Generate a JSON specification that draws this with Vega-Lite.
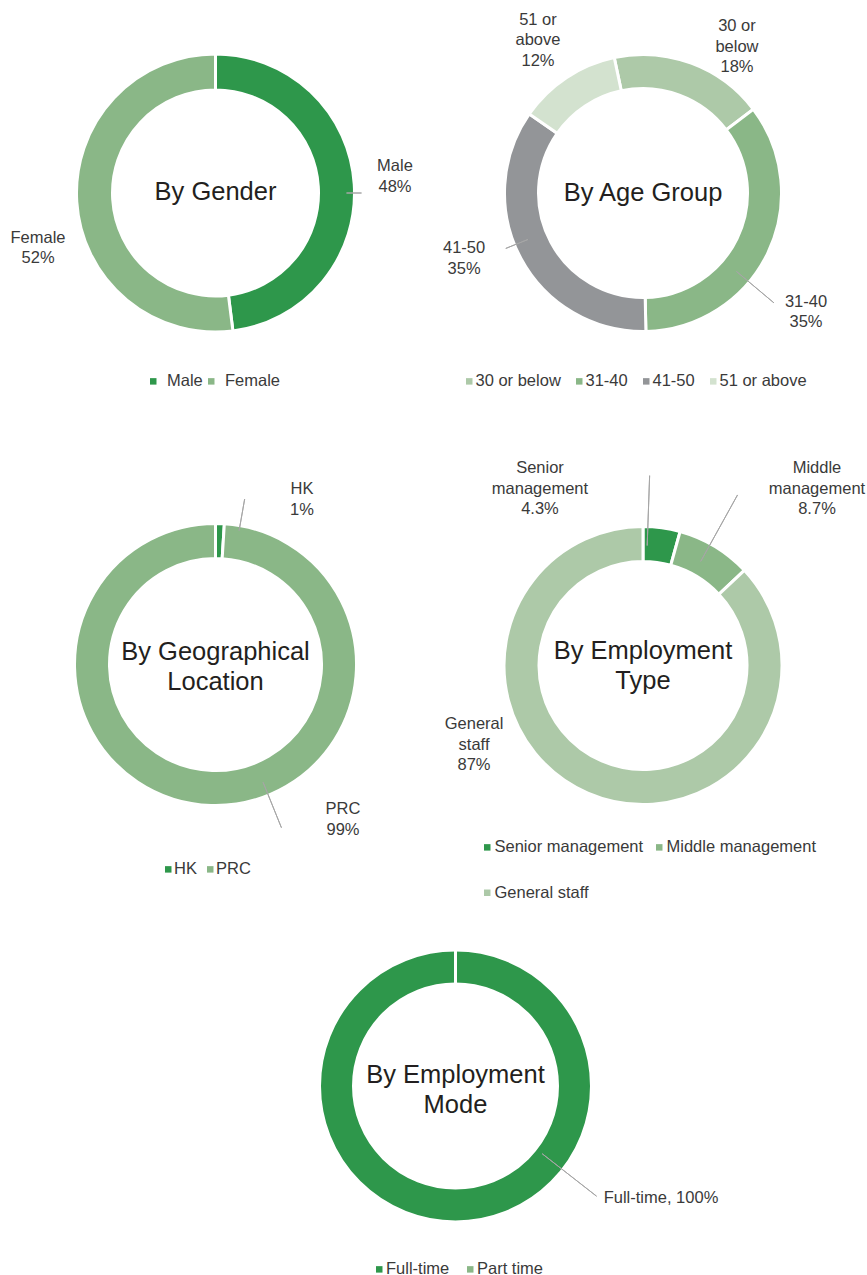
{
  "$schema": "https://vega.github.io/schema/vega-lite/v6.json",
  "padding": 0,
  "background": "white",
  "spacing": 0,
  "config": {
    "view": {"stroke": null},
    "font": "Liberation Sans",
    "text": {"fontSize": 16.5, "lineBreak": "\n", "lineHeight": 20.5, "color": "#3a3a3a"},
    "legend": {"title": null, "orient": "none", "direction": "horizontal", "symbolType": "square", "symbolSize": 42, "symbolStrokeWidth": 0, "labelFontSize": 16.5, "labelColor": "#3a3a3a", "labelFont": "Liberation Sans", "padding": 0, "labelLimit": 300}
  },
  "resolve": {"scale": {"color": "independent", "theta": "independent"}},
  "vconcat": [
    {
      "bounds": "flush",
      "spacing": 0,
      "resolve": {"scale": {"color": "independent", "theta": "independent"}},
      "hconcat": [
        {
          "width": 431, "height": 386,
          "data": {"values": [
            {"cat": "Male", "pct": 48, "i": 1, "label": "Male\n48%"},
            {"cat": "Female", "pct": 52, "i": 2, "label": "Female\n52%"}
          ]},
          "transform": [{"stack": "pct", "groupby": [], "sort": [{"field": "i", "order": "ascending"}], "as": ["s0", "s1"]}],
          "layer": [
            {"mark": {"type": "arc", "radius": 139, "radius2": 103, "stroke": "#ffffff", "strokeWidth": 3},
             "encoding": {
               "theta": {"field": "s0", "type": "quantitative", "stack": null, "scale": {"domain": [0, 100], "range": [0, 6.2832]}},
               "theta2": {"field": "s1"},
               "color": {"field": "cat", "type": "nominal", "scale": {"domain": ["Male", "Female"], "range": ["#2e974b", "#8ab787"]},
                 "legend": {"legendX": 145, "legendY": 373, "labelOffset": 5.5, "columnPadding": 0}}
             }},
            {"transform": [{"filter": "datum.cat === 'Male'"}],
             "mark": {"type": "arc", "radius": 146, "radius2": 131, "stroke": "#a6a6a6", "strokeWidth": 1, "fillOpacity": 0, "thetaOffset": 1.5708, "theta2Offset": 1.5708},
             "encoding": {
               "theta": {"field": "s0", "type": "quantitative", "stack": null, "scale": {"domain": [0, 100], "range": [0, 6.2832]}},
               "theta2": {"field": "s0"}
             }},
            {"transform": [{"filter": "datum.cat === 'Male'"}],
             "mark": {"type": "text", "radius": 181.5, "thetaOffset": 1.4215},
             "encoding": {
               "theta": {"field": "s0", "type": "quantitative", "stack": null, "scale": {"domain": [0, 100], "range": [0, 6.2832]}},
               "text": {"field": "label"}
             }},
            {"transform": [{"filter": "datum.cat === 'Female'"}],
             "mark": {"type": "text", "radius": 183, "thetaOffset": 1.4498},
             "encoding": {
               "theta": {"field": "s0", "type": "quantitative", "stack": null, "scale": {"domain": [0, 100], "range": [0, 6.2832]}},
               "text": {"field": "label"}
             }},
            {"data": {"values": [{"t": "By Gender"}]},
             "mark": {"type": "text", "fontSize": 25.5, "color": "#231f20", "dy": -1, "lineHeight": 30.3},
             "encoding": {"text": {"field": "t"}}}
          ]
        },
        {
          "width": 424, "height": 386,
          "data": {"values": [
            {"cat": "30 or below", "pct": 18, "i": 1, "label": "30 or\nbelow\n18%"},
            {"cat": "31-40", "pct": 35, "i": 2, "label": "31-40\n35%"},
            {"cat": "41-50", "pct": 35, "i": 3, "label": "41-50\n35%"},
            {"cat": "51 or above", "pct": 12, "i": 4, "label": "51 or\nabove\n12%"}
          ]},
          "transform": [{"stack": "pct", "groupby": [], "sort": [{"field": "i", "order": "ascending"}], "as": ["s0", "s1"]}],
          "layer": [
            {"mark": {"type": "arc", "radius": 138.5, "radius2": 104.5, "stroke": "#ffffff", "strokeWidth": 3},
             "encoding": {
               "theta": {"field": "s0", "type": "quantitative", "stack": null, "scale": {"domain": [0, 100], "range": [-0.2094, 6.0738]}},
               "theta2": {"field": "s1"},
               "color": {"field": "cat", "type": "nominal", "scale": {"domain": ["30 or below", "31-40", "41-50", "51 or above"], "range": ["#adc9a8", "#8ab787", "#939598", "#d3e2cf"]},
                 "legend": {"legendX": 30, "legendY": 373, "labelOffset": -2, "columnPadding": 10}}
             }},
            {"transform": [{"filter": "datum.cat === '41-50'"}],
             "mark": {"type": "arc", "radius": 148, "radius2": 124, "stroke": "#a6a6a6", "strokeWidth": 1, "fillOpacity": 0, "thetaOffset": 1.2078, "theta2Offset": 1.2078},
             "encoding": {
               "theta": {"field": "s0", "type": "quantitative", "stack": null, "scale": {"domain": [0, 100], "range": [-0.2094, 6.0738]}},
               "theta2": {"field": "s0"}
             }},
            {"transform": [{"filter": "datum.cat === '31-40'"}],
             "mark": {"type": "arc", "radius": 171, "radius2": 122, "stroke": "#a6a6a6", "strokeWidth": 1, "fillOpacity": 0, "thetaOffset": 1.3474, "theta2Offset": 1.3474},
             "encoding": {
               "theta": {"field": "s0", "type": "quantitative", "stack": null, "scale": {"domain": [0, 100], "range": [-0.2094, 6.0738]}},
               "theta2": {"field": "s0"}
             }},
            {"transform": [{"filter": "datum.cat === '30 or below'"}],
             "mark": {"type": "text", "radius": 191.6, "thetaOffset": 0.722},
             "encoding": {
               "theta": {"field": "s0", "type": "quantitative", "stack": null, "scale": {"domain": [0, 100], "range": [-0.2094, 6.0738]}},
               "text": {"field": "label"}
             }},
            {"transform": [{"filter": "datum.cat === '31-40'"}],
             "mark": {"type": "text", "radius": 195.9, "thetaOffset": 1.2374},
             "encoding": {
               "theta": {"field": "s0", "type": "quantitative", "stack": null, "scale": {"domain": [0, 100], "range": [-0.2094, 6.0738]}},
               "text": {"field": "label"}
             }},
            {"transform": [{"filter": "datum.cat === '41-50'"}],
             "mark": {"type": "text", "radius": 187.3, "thetaOffset": 1.2921},
             "encoding": {
               "theta": {"field": "s0", "type": "quantitative", "stack": null, "scale": {"domain": [0, 100], "range": [-0.2094, 6.0738]}},
               "text": {"field": "label"}
             }},
            {"transform": [{"filter": "datum.cat === '51 or above'"}],
             "mark": {"type": "text", "radius": 202.4, "thetaOffset": 0.4178},
             "encoding": {
               "theta": {"field": "s0", "type": "quantitative", "stack": null, "scale": {"domain": [0, 100], "range": [-0.2094, 6.0738]}},
               "text": {"field": "label"}
             }},
            {"data": {"values": [{"t": "By Age Group"}]},
             "mark": {"type": "text", "fontSize": 25.5, "color": "#231f20", "dy": 0, "lineHeight": 30.3},
             "encoding": {"text": {"field": "t"}}}
          ]
        }
      ]
    },
    {
      "bounds": "flush",
      "spacing": 0,
      "resolve": {"scale": {"color": "independent", "theta": "independent"}},
      "hconcat": [
        {
          "width": 431, "height": 549,
          "data": {"values": [
            {"cat": "HK", "pct": 1, "i": 1, "label": "HK\n1%"},
            {"cat": "PRC", "pct": 99, "i": 2, "label": "PRC\n99%"}
          ]},
          "transform": [{"stack": "pct", "groupby": [], "sort": [{"field": "i", "order": "ascending"}], "as": ["s0", "s1"]}],
          "layer": [
            {"mark": {"type": "arc", "radius": 141, "radius2": 106, "stroke": "#ffffff", "strokeWidth": 3},
             "encoding": {
               "theta": {"field": "s0", "type": "quantitative", "stack": null, "scale": {"domain": [0, 100], "range": [0, 6.2832]}},
               "theta2": {"field": "s1"},
               "color": {"field": "cat", "type": "nominal", "scale": {"domain": ["HK", "PRC"], "range": ["#2e974b", "#8ab787"]},
                 "legend": {"legendX": 160, "legendY": 471, "labelOffset": -2.5, "columnPadding": 5}}
             }},
            {"transform": [{"filter": "datum.cat === 'HK'"}],
             "mark": {"type": "arc", "radius": 168, "radius2": 136, "stroke": "#a6a6a6", "strokeWidth": 1, "fillOpacity": 0, "thetaOffset": 0.1745, "theta2Offset": 0.1745},
             "encoding": {
               "theta": {"field": "s0", "type": "quantitative", "stack": null, "scale": {"domain": [0, 100], "range": [0, 6.2832]}},
               "theta2": {"field": "s0"}
             }},
            {"transform": [{"filter": "datum.cat === 'PRC'"}],
             "mark": {"type": "arc", "radius": 176, "radius2": 127, "stroke": "#a6a6a6", "strokeWidth": 1, "fillOpacity": 0, "thetaOffset": 2.6948, "theta2Offset": 2.6948},
             "encoding": {
               "theta": {"field": "s0", "type": "quantitative", "stack": null, "scale": {"domain": [0, 100], "range": [0, 6.2832]}},
               "theta2": {"field": "s0"}
             }},
            {"transform": [{"filter": "datum.cat === 'HK'"}],
             "mark": {"type": "text", "radius": 195.4, "thetaOffset": 0.4585},
             "encoding": {
               "theta": {"field": "s0", "type": "quantitative", "stack": null, "scale": {"domain": [0, 100], "range": [0, 6.2832]}},
               "text": {"field": "label"}
             }},
            {"transform": [{"filter": "datum.cat === 'PRC'"}],
             "mark": {"type": "text", "radius": 192.9, "thetaOffset": 2.3567},
             "encoding": {
               "theta": {"field": "s0", "type": "quantitative", "stack": null, "scale": {"domain": [0, 100], "range": [0, 6.2832]}},
               "text": {"field": "label"}
             }},
            {"data": {"values": [{"t": "By Geographical\nLocation"}]},
             "mark": {"type": "text", "fontSize": 25.5, "color": "#231f20", "dy": -13, "lineHeight": 30.3},
             "encoding": {"text": {"field": "t"}}}
          ]
        },
        {
          "width": 424, "height": 551,
          "data": {"values": [
            {"cat": "Senior management", "pct": 4.3, "i": 1, "label": "Senior\nmanagement\n4.3%"},
            {"cat": "Middle management", "pct": 8.7, "i": 2, "label": "Middle\nmanagement\n8.7%"},
            {"cat": "General staff", "pct": 87, "i": 3, "label": "General\nstaff\n87%"}
          ]},
          "transform": [{"stack": "pct", "groupby": [], "sort": [{"field": "i", "order": "ascending"}], "as": ["s0", "s1"]}],
          "layer": [
            {"mark": {"type": "arc", "radius": 139, "radius2": 104, "stroke": "#ffffff", "strokeWidth": 3},
             "encoding": {
               "theta": {"field": "s0", "type": "quantitative", "stack": null, "scale": {"domain": [0, 100], "range": [0, 6.2832]}},
               "theta2": {"field": "s1"},
               "color": {"field": "cat", "type": "nominal", "scale": {"domain": ["Senior management", "Middle management", "General staff"], "range": ["#2e974b", "#8ab787", "#adc9a8"]},
                 "legend": {"legendX": 48, "legendY": 449, "labelOffset": -1, "columnPadding": 7, "rowPadding": 28.5, "columns": 2}}
             }},
            {"transform": [{"filter": "datum.cat === 'Senior management'"}],
             "mark": {"type": "arc", "radius": 190, "radius2": 120, "stroke": "#a6a6a6", "strokeWidth": 1, "fillOpacity": 0, "thetaOffset": 0.0349, "theta2Offset": 0.0349},
             "encoding": {
               "theta": {"field": "s0", "type": "quantitative", "stack": null, "scale": {"domain": [0, 100], "range": [0, 6.2832]}},
               "theta2": {"field": "s0"}
             }},
            {"transform": [{"filter": "datum.cat === 'Middle management'"}],
             "mark": {"type": "arc", "radius": 195, "radius2": 119, "stroke": "#a6a6a6", "strokeWidth": 1, "fillOpacity": 0, "thetaOffset": 0.236, "theta2Offset": 0.236},
             "encoding": {
               "theta": {"field": "s0", "type": "quantitative", "stack": null, "scale": {"domain": [0, 100], "range": [0, 6.2832]}},
               "theta2": {"field": "s0"}
             }},
            {"transform": [{"filter": "datum.cat === 'Senior management'"}],
             "mark": {"type": "text", "radius": 222.5, "thetaOffset": -0.4814},
             "encoding": {
               "theta": {"field": "s0", "type": "quantitative", "stack": null, "scale": {"domain": [0, 100], "range": [0, 6.2832]}},
               "text": {"field": "label"}
             }},
            {"transform": [{"filter": "datum.cat === 'Middle management'"}],
             "mark": {"type": "text", "radius": 263, "thetaOffset": 0.4527},
             "encoding": {
               "theta": {"field": "s0", "type": "quantitative", "stack": null, "scale": {"domain": [0, 100], "range": [0, 6.2832]}},
               "text": {"field": "label"}
             }},
            {"transform": [{"filter": "datum.cat === 'General staff'"}],
             "mark": {"type": "text", "radius": 178.9, "thetaOffset": 3.5608},
             "encoding": {
               "theta": {"field": "s0", "type": "quantitative", "stack": null, "scale": {"domain": [0, 100], "range": [0, 6.2832]}},
               "text": {"field": "label"}
             }},
            {"data": {"values": [{"t": "By Employment\nType"}]},
             "mark": {"type": "text", "fontSize": 25.5, "color": "#231f20", "dy": -15, "lineHeight": 30.3},
             "encoding": {"text": {"field": "t"}}}
          ]
        }
      ]
    },
    {
      "bounds": "flush",
      "spacing": 0,
      "resolve": {"scale": {"color": "independent", "theta": "independent"}},
      "hconcat": [
        {
          "width": 185, "height": 290,
          "data": {"values": []},
          "mark": {"type": "point", "opacity": 0},
          "encoding": {}
        },
        {
          "width": 541, "height": 290,
          "data": {"values": [
            {"cat": "Full-time", "pct": 100, "i": 1, "label": "Full-time, 100%"},
            {"cat": "Part time", "pct": 0, "i": 2, "label": ""}
          ]},
          "transform": [{"stack": "pct", "groupby": [], "sort": [{"field": "i", "order": "ascending"}], "as": ["s0", "s1"]}],
          "layer": [
            {"mark": {"type": "arc", "radius": 136, "radius2": 102, "stroke": "#ffffff", "strokeWidth": 3},
             "encoding": {
               "theta": {"field": "s0", "type": "quantitative", "stack": null, "scale": {"domain": [0, 100], "range": [0, 6.2832]}},
               "theta2": {"field": "s1"},
               "color": {"field": "cat", "type": "nominal", "scale": {"domain": ["Full-time", "Part time"], "range": ["#2e974b", "#8ab787"]},
                 "legend": {"legendX": 186, "legendY": 320, "labelOffset": -1.5, "columnPadding": 12}}
             }},
            {"transform": [{"filter": "datum.cat === 'Full-time'"}],
             "mark": {"type": "arc", "radius": 179, "radius2": 110, "stroke": "#a6a6a6", "strokeWidth": 1, "fillOpacity": 0, "thetaOffset": 2.234, "theta2Offset": 2.234},
             "encoding": {
               "theta": {"field": "s0", "type": "quantitative", "stack": null, "scale": {"domain": [0, 100], "range": [0, 6.2832]}},
               "theta2": {"field": "s0"}
             }},
            {"transform": [{"filter": "datum.cat === 'Full-time'"}],
             "mark": {"type": "text", "radius": 233.9, "thetaOffset": 2.0688},
             "encoding": {
               "theta": {"field": "s0", "type": "quantitative", "stack": null, "scale": {"domain": [0, 100], "range": [0, 6.2832]}},
               "text": {"field": "label"}
             }},
            {"data": {"values": [{"t": "By Employment\nMode"}]},
             "mark": {"type": "text", "fontSize": 25.5, "color": "#231f20", "dy": -11.5, "lineHeight": 30.3},
             "encoding": {"text": {"field": "t"}}}
          ]
        }
      ]
    }
  ]
}
